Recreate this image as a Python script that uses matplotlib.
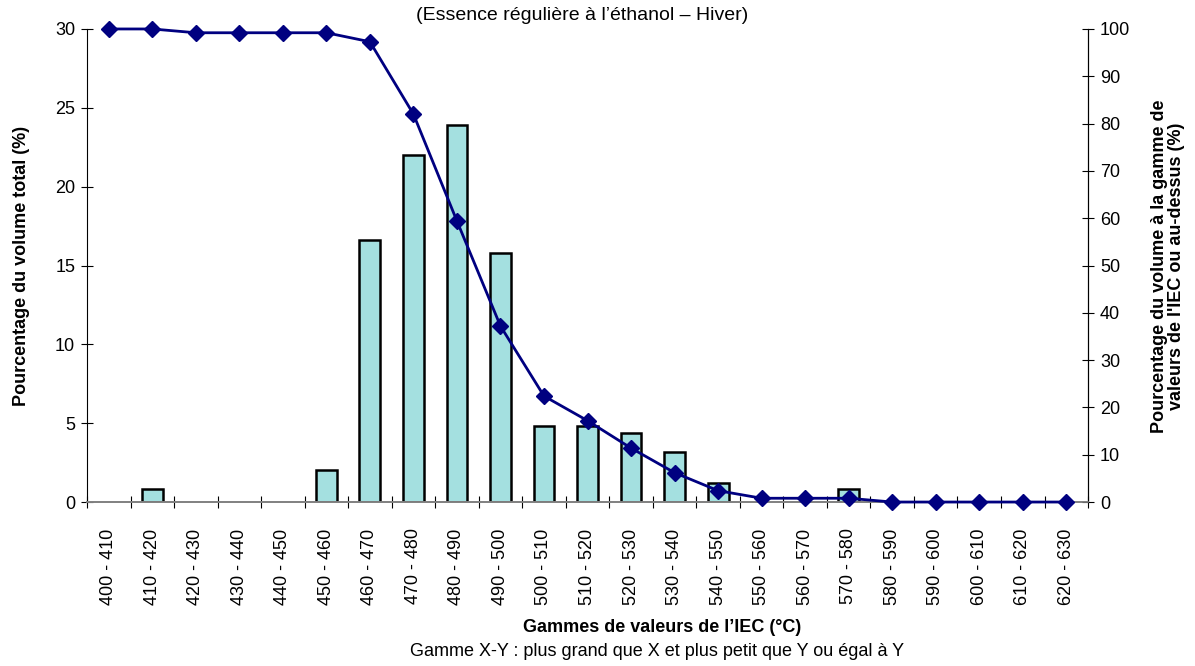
import numpy as np
import matplotlib.pyplot as plt

plt.rcParams['font.family'] = ['Liberation Sans', 'DejaVu Sans']

ranges = ["400 - 410", "410 - 420", "420 - 430", "430 - 440", "440 - 450",
          "450 - 460", "460 - 470", "470 - 480", "480 - 490", "490 - 500",
          "500 - 510", "510 - 520", "520 - 530", "530 - 540", "540 - 550",
          "550 - 560", "560 - 570", "570 - 580", "580 - 590", "590 - 600",
          "600 - 610", "610 - 620", "620 - 630"]
vol_pct = [0, 0.8, 0, 0, 0, 2.0, 16.6, 22.0, 23.9, 15.8, 4.8, 4.8, 4.4, 3.2,
           1.2, 0, 0, 0.8, 0, 0, 0, 0, 0]
cum_pct = [100, 100, 99.2, 99.2, 99.2, 99.2, 97.3, 82.0, 59.4, 37.2, 22.4,
           17.2, 11.4, 6.2, 2.4, 0.8, 0.8, 0.8, 0, 0, 0, 0, 0]

FS = 13

x = np.arange(len(ranges))
vol = np.array(vol_pct)
keep = vol > 0

fig = plt.figure(figsize=(11.95, 6.66), dpi=100)
ax = fig.add_axes([0.0728, 0.2462, 0.8377, 0.7103])
ax2 = ax.twinx()

ax.bar(x[keep], vol[keep], width=0.48, color='#a4e0e0', edgecolor='black',
       linewidth=1.8, zorder=2)
ax2.plot(x, cum_pct, color='#000080', lw=2, marker='D', ms=8, zorder=3,
         clip_on=False)

ax.set_xlim(-0.5, len(ranges) - 0.5)
ax.set_ylim(0, 30)
ax2.set_ylim(0, 100)
ax.set_yticks(range(0, 31, 5))
ax2.set_yticks(range(0, 101, 10))

# labels sit at the centres, tick marks on the range boundaries
ax.set_xticks(x)
ax.set_xticklabels(ranges, rotation=90, fontsize=FS)
ax.set_xticks(np.arange(-0.5, len(ranges)), minor=True)
ax.tick_params(axis='x', which='major', length=0, pad=19)
ax.tick_params(axis='x', which='minor', direction='inout', length=9, width=0.8)
ax.tick_params(axis='y', direction='inout', length=9, width=0.8, labelsize=FS, pad=4)
ax2.tick_params(axis='y', direction='inout', length=9, width=0.8, labelsize=FS, pad=4)

for a in (ax, ax2):
    a.spines['top'].set_visible(False)
    a.spines['bottom'].set_color('#808080')
    a.spines['bottom'].set_linewidth(1.2)
ax2.spines['left'].set_visible(False)
ax.set_zorder(ax2.get_zorder() - 1)
ax2.patch.set_visible(False)

fig.text(22 / 1195, 0.60, "Pourcentage du volume total (%)", rotation=90,
         ha='center', va='center', fontsize=FS, fontweight='bold')
fig.text(1168 / 1195, 0.60,
         "Pourcentage du volume à la gamme de\nvaleurs de l'IEC ou au-dessus (%)",
         rotation=90, ha='center', va='center', fontsize=FS, fontweight='bold',
         linespacing=1.05)

fig.text(582 / 1195, 1 - 16 / 666, "(Essence régulière à l’éthanol – Hiver)",
         ha='center', va='center', fontsize=14)
fig.text(662 / 1195, 1 - 627 / 666, "Gammes de valeurs de l’IEC (°C)",
         ha='center', va='center', fontsize=FS, fontweight='bold')
fig.text(657 / 1195, 1 - 652 / 666,
         "Gamme X-Y : plus grand que X et plus petit que Y ou égal à Y",
         ha='center', va='center', fontsize=FS)

fig.savefig("out.png", dpi=100)
